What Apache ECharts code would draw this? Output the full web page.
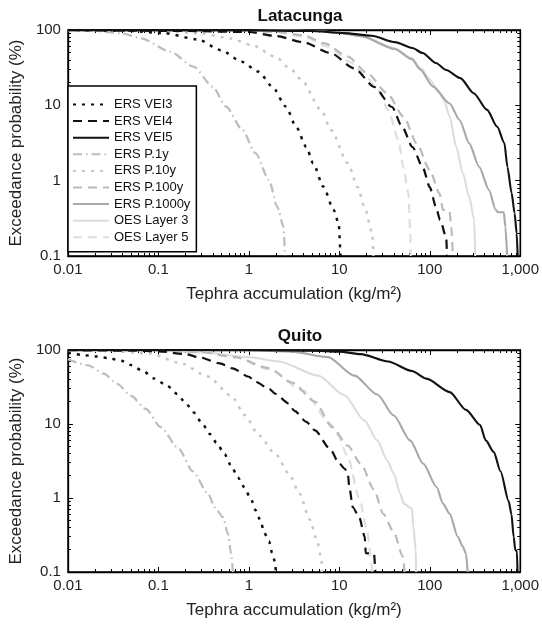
<!DOCTYPE html>
<html>
<head>
<meta charset="utf-8">
<script src="https://cdn.jsdelivr.net/npm/echarts@6/dist/echarts.min.js"></script>
<style>
html,body{margin:0;padding:0;background:#fff;}
#chart{width:542px;height:631px;}
</style>
</head>
<body>
<div id="chart"></div>
<script>
// ---------- tick values / labels ----------
const xTicks = [0.01, 0.1, 1, 10, 100, 1000];
const xTickLabels = ['0.01', '0.1', '1', '10', '100', '1,000'];
const yTicks = [0.1, 1, 10, 100];
const yTickLabels = ['0.1', '1', '10', '100'];
const xMinorTicks = [0.02,0.03,0.04,0.05,0.06,0.07,0.08,0.09,
  0.2,0.3,0.4,0.5,0.6,0.7,0.8,0.9,
  2,3,4,5,6,7,8,9,
  20,30,40,50,60,70,80,90,
  200,300,400,500,600,700,800,900];
const yMinorTicks = [0.2,0.3,0.4,0.5,0.6,0.7,0.8,0.9,
  2,3,4,5,6,7,8,9,
  20,30,40,50,60,70,80,90];

const seriesNames = ['ERS VEI3','ERS VEI4','ERS VEI5','ERS P.1y','ERS P.10y','ERS P.100y','ERS P.1000y','OES Layer 3','OES Layer 5'];
const panelTitles = ['Latacunga', 'Quito'];

// ---------- Latacunga (x = kg/m2, y = %) ----------
const lat_VEI3 = [[0.01,100],[0.04,98.5],[0.115,91],[0.27,75],[0.494,54],[0.83,38],[1.28,28],[1.82,17.7],[2.57,9.6],[3.33,5.2],[4.32,2.8],[5.14,1.7],[6.67,0.83],[8.65,0.41],[9.84,0.27],[10.3,0.1]];
const lat_VEI4 = [[0.01,100],[0.2,97],[1,94],[2.02,83],[3.97,69],[8.0,49.5],[14.6,31],[24.5,17.5],[38.2,9.5],[49.5,5.2],[64.3,2.8],[83.3,1.52],[100,0.82],[117,0.45],[130,0.30],[152,0.178],[155,0.1]];
const lat_VEI5 = [[0.01,100],[1,99.5],[5,97],[11.2,91],[22.7,84],[41.3,69],[64.3,57.7],[83.3,49.5],[117,36.5],[152,29.4],[218,23],[306,14.5],[430,8.7],[557,5.2],[668,3.16],[722,1.52],[802,0.69],[867,0.37],[913,0.2],[937,0.1]];
const lat_P1y = [[0.01,99],[0.02,97],[0.04,90],[0.064,77.6],[0.136,51.5],[0.244,32.6],[0.4,17.7],[0.56,9.6],[0.85,4.7],[1.19,2.3],[1.67,1.02],[2.06,0.45],[2.43,0.24],[2.5,0.1]];
const lat_P10y = [[0.01,100],[0.1,98],[0.3,90],[0.61,77.6],[1.09,63],[1.97,44],[2.99,29.4],[3.82,21.7],[6.3,8.7],[8.1,4.7],[12.4,1.71],[16,0.82],[19,0.45],[23.2,0.2],[23.8,0.1]];
const lat_P100y = [[0.01,100],[0.5,99],[2,95],[4,85],[6.9,66.6],[12.4,44.3],[20.5,26.6],[33.8,14.4],[51.4,7.06],[71.8,3.13],[100,1.38],[128,0.68],[140,0.41],[165,0.40],[173,0.24],[180,0.1]];
const lat_P1000y = [[0.01,100],[1,99.5],[5,97],[10,92],[17.3,83],[41,56],[63.5,41],[78,30],[109,17.7],[166,10.6],[213,6.4],[273,3.13],[351,1.53],[452,0.75],[535,0.41],[570,0.38],[658,0.38],[687,0.24],[716,0.1]];
const lat_OES3 = [[0.01,100],[1,99.5],[5,97],[10,92.5],[17.3,84],[41,57],[63.5,42],[80,31],[100,22],[125,15],[145,11.5],[166,7.06],[196,2.82],[232,1.25],[273,0.61],[310,0.3],[318,0.1]];
const lat_OES5 = [[0.01,100],[0.5,99],[2,94],[4,82],[7.5,60],[12.9,38],[20,24],[26.7,16],[34.6,8.7],[45,3.5],[51,1.5],[58,0.68],[61,0.2],[61.5,0.1]];

// ---------- Quito ----------
const qui_VEI3 = [[0.01,92],[0.0142,86],[0.0198,82],[0.0277,78],[0.0388,71.6],[0.0498,62.7],[0.0695,50.9],[0.0893,41.3],[0.125,33],[0.161,25.5],[0.198,19.6],[0.244,14.4],[0.30,10.5],[0.371,7.3],[0.438,5.6],[0.54,3.9],[0.638,2.73],[0.754,1.9],[0.89,1.4],[1.05,0.98],[1.19,0.68],[1.35,0.49],[1.47,0.345],[1.67,0.26],[1.81,0.18],[1.97,0.13],[1.98,0.1]];
const qui_VEI4 = [[0.01,99.5],[0.05,98],[0.1,96],[0.2,88],[0.29,79],[0.48,66],[0.66,56.5],[1.0,43.5],[1.19,37],[1.67,30],[1.97,25.5],[2.75,19],[3.2,15],[4.32,10.7],[5.38,8.2],[7.83,4.66],[10.07,2.9],[11.4,2.5],[12.4,2.2],[12.9,1.41],[14.1,0.75],[16.6,0.55],[19.1,0.3],[19.6,0.18],[24.2,0.176],[25,0.1]];
const qui_VEI5 = [[0.01,100],[1,99.8],[5,98],[10,95],[17.3,88],[34.6,70],[63.5,52],[92,41],[166,27],[252,15.5],[360,9.7],[416,6],[509,4.2],[605,2.3],[746,0.9],[800,0.6],[846,0.3],[880,0.2],[920,0.19],[933,0.1]];
const qui_P1y = [[0.01,75],[0.0168,62],[0.025,48],[0.035,35],[0.05,24],[0.0724,16],[0.106,9.1],[0.167,4.66],[0.24,2.3],[0.355,1.14],[0.42,0.75],[0.518,0.55],[0.586,0.33],[0.638,0.176],[0.665,0.1]];
const qui_P10y = [[0.01,99],[0.03,97],[0.08,90],[0.175,66.7],[0.35,44],[0.64,24],[0.91,13.1],[1.28,7.1],[1.98,3.9],[2.8,2.1],[3.63,1.15],[4.71,0.51],[5.6,0.28],[6.38,0.15],[6.4,0.1]];
const qui_P100y = [[0.01,100],[0.1,98.5],[0.3,94],[0.7,80],[1.66,57],[3.05,36],[5.38,20],[8.4,9],[12.4,5.1],[17.3,2.9],[24.2,1.3],[30.6,0.61],[40,0.345],[50.6,0.16],[52.5,0.1]];
const qui_P1000y = [[0.01,100],[0.3,99.5],[1,98.5],[3,95],[7.5,80],[14.7,45],[26.3,25],[40,13],[60.6,6.0],[84.9,2.9],[119,1.41],[140,0.84],[166,0.61],[204,0.3],[232,0.22],[252,0.176],[262,0.1]];
const qui_OES3 = [[0.01,100],[0.1,99],[0.35,92],[1,80],[2.14,70],[5.85,45],[11.4,24.5],[18.9,11.2],[26.3,6],[33.8,3.24],[40,2.13],[47.3,1.14],[51.4,0.84],[63.4,0.72],[66,0.4],[70,0.2],[70.6,0.1]];
const qui_OES5 = [[0.01,100],[0.1,98],[0.3,93],[0.7,80],[1.66,55],[4.0,28],[8,10],[9.66,7],[12.4,3.6],[16.6,1.0],[20,0.4],[22.9,0.13],[23,0.1]];

const panels = [
  [lat_VEI3, lat_VEI4, lat_VEI5, lat_P1y, lat_P10y, lat_P100y, lat_P1000y, lat_OES3, lat_OES5],
  [qui_VEI3, qui_VEI4, qui_VEI5, qui_P1y, qui_P10y, qui_P100y, qui_P1000y, qui_OES3, qui_OES5]
];

// ---------- styles ----------
const styles = {
  'ERS VEI3':   {color:'#111111', width:2.5, type:[3,6]},
  'ERS VEI4':   {color:'#111111', width:2.2, type:[9,6]},
  'ERS VEI5':   {color:'#111111', width:2.1, type:'solid'},
  'ERS P.1y':   {color:'#bdbdbd', width:2.2, type:[9,4,1.5,4]},
  'ERS P.10y':  {color:'#c6c6c6', width:2.5, type:[3,6]},
  'ERS P.100y': {color:'#bababa', width:2.2, type:[9,6]},
  'ERS P.1000y':{color:'#a8a8a8', width:2.1, type:'solid'},
  'OES Layer 3':{color:'#dcdcdc', width:2.1, type:'solid'},
  'OES Layer 5':{color:'#dedede', width:2.2, type:[9,6]}
};
const drawOrder = [7,8,6,5,4,3,0,1,2];

const FONT = '"Liberation Sans", Arial, Helvetica, sans-serif';
const grids = [
  {left:66, top:30, width:459, height:226, show:true, borderColor:'#000', borderWidth:1.3, backgroundColor:'#fff'},
  {left:66, top:350, width:459, height:222, show:true, borderColor:'#000', borderWidth:1.3, backgroundColor:'#fff'}
];

function idxOf(arr, v) {
  for (let i = 0; i < arr.length; i++) {
    if (Math.abs(Math.log10(arr[i]) - Math.log10(v)) < 1e-6) return i;
  }
  return -1;
}

const xAxes = [], yAxes = [];
[0,1].forEach(g => {
  ['bottom','top'].forEach(pos => {
    xAxes.push({
      type:'log', logBase:10, gridIndex:g, position:pos, min:0.01, max:1000, splitNumber:5,
      name: pos === 'bottom' ? 'Tephra accumulation (kg/m\u00B2)' : '',
      nameLocation:'middle', nameGap:30,
      nameTextStyle:{fontFamily:FONT, fontSize:17, color:'#222'},
      axisLine:{show:true, lineStyle:{color:'#000', width:1.3}},
      axisTick:{show:true, inside:true, length:5, lineStyle:{color:'#000', width:1}},
      axisLabel:{show: pos === 'bottom', fontFamily:FONT, fontSize:15, color:'#222', margin:6,
        formatter: v => { const i = idxOf(xTicks, v); return i >= 0 ? xTickLabels[i] : ''; }},
      splitLine:{show:false}
    });
  });
  ['bottom','top'].forEach(pos => {
    xAxes.push({
      type:'log', logBase:10, gridIndex:g, position:pos, min:0.01, max:1000,
      axisLine:{show:false},
      axisTick:{show:true, inside:true, length:3, customValues:xMinorTicks, lineStyle:{color:'#000', width:1}},
      axisLabel:{show:false},
      splitLine:{show:false}
    });
  });
  ['left','right'].forEach(pos => {
    yAxes.push({
      type:'log', logBase:10, gridIndex:g, position:pos, min:0.1, max:100, splitNumber:3,
      name: pos === 'left' ? 'Exceedance probability (%)' : '',
      nameLocation:'middle', nameGap:38,
      nameTextStyle:{fontFamily:FONT, fontSize:17, color:'#222'},
      axisLine:{show:true, lineStyle:{color:'#000', width:1.3}},
      axisTick:{show:true, inside:true, length:5, lineStyle:{color:'#000', width:1}},
      axisLabel:{show: pos === 'left', fontFamily:FONT, fontSize:15, color:'#222', margin:7,
        formatter: v => { const i = idxOf(yTicks, v); return i >= 0 ? yTickLabels[i] : ''; }},
      splitLine:{show:false}
    });
  });
  ['left','right'].forEach(pos => {
    yAxes.push({
      type:'log', logBase:10, gridIndex:g, position:pos, min:0.1, max:100,
      axisLine:{show:false},
      axisTick:{show:true, inside:true, length:3, customValues:yMinorTicks, lineStyle:{color:'#000', width:1}},
      axisLabel:{show:false},
      splitLine:{show:false}
    });
  });
});

const series = [];
[0,1].forEach(g => {
  drawOrder.forEach((k, z) => {
    const name = seriesNames[k];
    const st = styles[name];
    series.push({
      type:'line', name:name, xAxisIndex:g*4, yAxisIndex:g*4,
      data: panels[g][k], showSymbol:false, symbol:'none',
      smooth:0.25, smoothMonotone:'x',
      clip:true, z: 2 + z * 0.01, silent:true, animation:false,
      lineStyle:{color:st.color, width:st.width, type:st.type, cap:'butt'},
      itemStyle:{color:st.color}
    });
  });
});

const chart = echarts.init(document.getElementById('chart'), null, {renderer:'canvas'});
chart.setOption({
  backgroundColor:'#fff',
  animation:false,
  title: [
    {text:panelTitles[0], left:295, top:3, textAlign:'center', textStyle:{fontFamily:FONT, fontSize:17, fontWeight:'bold', color:'#111'}},
    {text:panelTitles[1], left:295, top:323, textAlign:'center', textStyle:{fontFamily:FONT, fontSize:17, fontWeight:'bold', color:'#111'}}
  ],
  legend: {
    data: seriesNames, orient:'vertical', left:68, top:86,
    itemWidth:36, itemHeight:12, itemGap:3.6,
    padding:[12,6,8,4],
    borderColor:'#000', borderWidth:1.5, backgroundColor:'#fff',
    itemStyle:{opacity:0},
    textStyle:{fontFamily:FONT, fontSize:13, color:'#111'},
    selectedMode:false,
    z:10
  },
  grid: grids,
  xAxis: xAxes,
  yAxis: yAxes,
  series: series
});
</script>
</body>
</html>
